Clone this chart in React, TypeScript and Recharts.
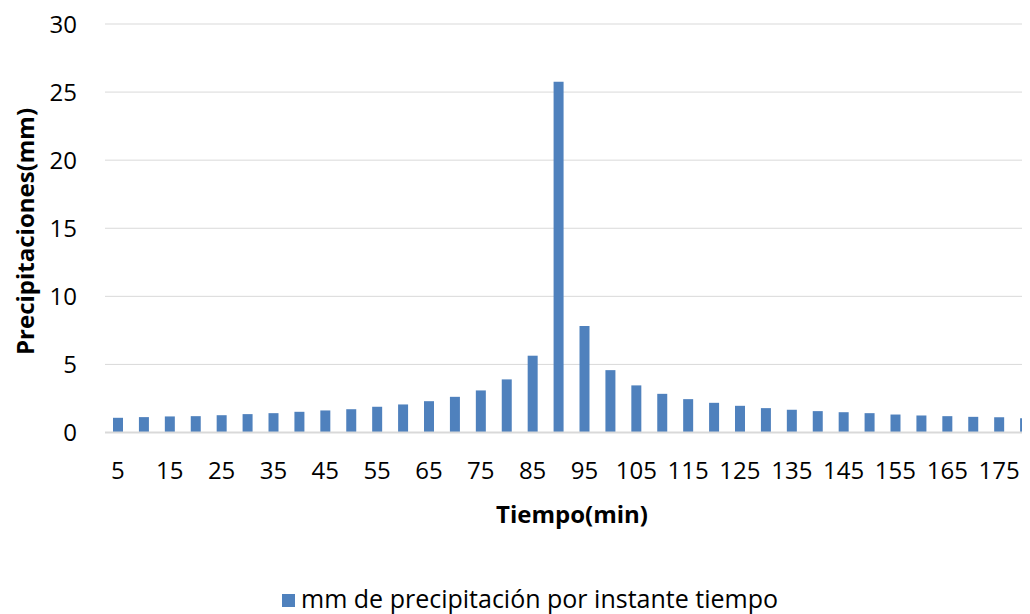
import { BarChart, Bar, XAxis, YAxis, CartesianGrid, Legend, Label } from 'recharts';

const minutes = [
  '5', '10', '15', '20', '25', '30', '35', '40', '45', '50', '55', '60',
  '65', '70', '75', '80', '85', '90', '95', '100', '105', '110', '115', '120',
  '125', '130', '135', '140', '145', '150', '155', '160', '165', '170', '175', '180',
];
const precip = [
  1.08, 1.13, 1.18, 1.2, 1.27, 1.35, 1.42, 1.52, 1.62, 1.71, 1.89, 2.06,
  2.3, 2.62, 3.09, 3.9, 5.64, 25.76, 7.82, 4.58, 3.46, 2.84, 2.45, 2.18,
  1.96, 1.79, 1.67, 1.57, 1.49, 1.42, 1.32, 1.25, 1.2, 1.15, 1.12, 1.05,
];
const yTicks = [0, 5, 10, 15, 20, 25, 30];

const seriesName = 'mm de precipitación por instante tiempo';
const font = '"Open Sans", sans-serif';
const blue = '#4f81bd';

const data = minutes.map((m, i) => ({ min: m, value: precip[i] }));

function LegendBox() {
  return (
    <div style={{ display: 'flex', justifyContent: 'center', alignItems: 'center', fontFamily: font, fontSize: 25, color: '#000', lineHeight: '30px', whiteSpace: 'nowrap' }}>
      <span style={{ width: 13, height: 13, background: blue, marginRight: 6, marginTop: 4, display: 'inline-block' }} />
      {seriesName}
    </div>
  );
}

export default function App() {
  return (
    <div style={{ width: 1022, height: 606, overflow: 'hidden', position: 'relative' }}>
      <BarChart width={1040} height={606} data={data} margin={{ top: 16, right: 10, bottom: 121.5, left: 0 }}>
        <CartesianGrid stroke="#d9d9d9" vertical={false} />
        <XAxis dataKey="min" interval={1} tickLine={false} tickSize={6} tickMargin={23}
          axisLine={{ stroke: '#d9d9d9', strokeWidth: 2 }} height={60}
          tick={{ fontSize: 24, fill: '#000', fontFamily: font }}>
          <Label content={() => (
            <text x={564} y={515} textAnchor="middle"
              fontFamily={font} fontSize={24} fontWeight="bold" fill="#000">Tiempo(min)</text>
          )} />
        </XAxis>
        <YAxis domain={[0, 30]} ticks={yTicks} width={97} axisLine={false} tickLine={false}
          tickSize={6} tickMargin={22} tick={{ fontSize: 24, fill: '#000', fontFamily: font }}>
          <Label content={() => (
            <text x={26} y={223.5} transform="rotate(-90 26 223.5)" textAnchor="middle"
              fontFamily={font} fontSize={24} fontWeight="bold" fill="#000">Precipitaciones(mm)</text>
          )} />
        </YAxis>
        <Legend layout="vertical" verticalAlign="middle" align="center"
          wrapperStyle={{ top: 575, left: 0, width: 1044 }} content={() => <LegendBox />} />
        <Bar dataKey="value" name={seriesName} fill={blue} barSize={10} isAnimationActive={false} />
      </BarChart>
    </div>
  );
}
